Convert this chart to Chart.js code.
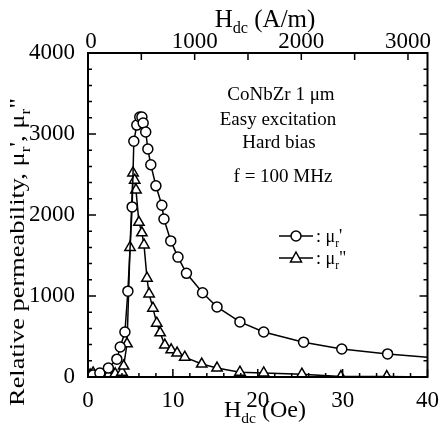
<!DOCTYPE html>
<html>
<head>
<meta charset="utf-8">
<script src="https://cdn.jsdelivr.net/npm/chart.js@4.4.1/dist/chart.umd.min.js"></script>
<style>
  html, body { margin: 0; padding: 0; background: #fff; }
  #wrap { width: 441px; height: 428px; }
</style>
</head>
<body>
<div id="wrap"><canvas id="permChart" width="441" height="428"></canvas></div>
<script>
// mu_r' (circles)
const hReal = [0, 0.6, 1.4, 2.4, 3.4, 3.8, 4.35, 4.7, 5.2, 5.4, 5.75, 6.1, 6.35, 6.5, 6.8, 7.05, 7.4, 8.0, 8.7, 8.95, 9.75, 10.6, 11.6, 13.5, 15.2, 17.9, 20.7, 25.4, 29.9, 35.3, 40];
const muReal = [10, 25, 50, 110, 220, 370, 555, 1060, 2100, 2910, 3110, 3210, 3210, 3135, 3025, 2815, 2620, 2360, 2120, 1950, 1680, 1480, 1280, 1040, 865, 680, 555, 430, 345, 285, 245];
// mu_r'' (triangles)
const hImag = [0.25, 0.6, 1.5, 2.4, 3.2, 4.0, 4.2, 4.6, 4.95, 5.3, 5.5, 5.65, 6.0, 6.35, 6.6, 6.95, 7.2, 7.65, 8.1, 8.5, 9.05, 9.8, 10.5, 11.4, 13.4, 15.2, 17.9, 20.7, 25.2, 29.8, 35.2, 40];
const muImag = [25, 50, 20, 25, 40, 60, 135, 410, 1600, 2520, 2430, 2310, 1910, 1780, 1630, 1220, 1025, 850, 665, 545, 395, 335, 295, 245, 160, 110, 60, 50, 35, 5, 5, 0];

const yTicks = [0, 1000, 2000, 3000, 4000];
const xTicks = [0, 10, 20, 30, 40];
const topTicks = [0, 1000, 2000, 3000];
const OE_TO_AM = 79.577;

const serif = "'Liberation Serif', 'DejaVu Serif', serif";

// text pieces with subscripts
function richWidth(ctx, parts, size) {
  let w = 0;
  parts.forEach(p => {
    ctx.font = (p.sub ? size * 0.65 : size) + "px " + serif;
    w += ctx.measureText(p.t).width;
  });
  return w;
}
function drawRich(ctx, parts, x, y, size, align) {
  let w = richWidth(ctx, parts, size);
  let cx = align === "center" ? x - w / 2 : x;
  ctx.textAlign = "left";
  ctx.textBaseline = "alphabetic";
  parts.forEach(p => {
    ctx.font = (p.sub ? size * 0.65 : size) + "px " + serif;
    ctx.fillText(p.t, cx, p.sub ? y + size * 0.25 : y);
    cx += ctx.measureText(p.t).width;
  });
}

const decor = {
  id: "decor",
  afterDraw(chart) {
    const ctx = chart.ctx;
    const a = chart.chartArea;
    const xs = chart.scales.x, ys = chart.scales.y, xt = chart.scales.xTop;
    ctx.save();
    ctx.strokeStyle = "#000";
    ctx.fillStyle = "#000";
    ctx.lineWidth = 2;
    ctx.strokeRect(a.left, a.top, a.right - a.left, a.bottom - a.top);

    ctx.lineWidth = 1.5;
    ctx.beginPath();
    // y ticks, both sides
    for (let v = 0; v <= 4000; v += 200) {
      const py = ys.getPixelForValue(v);
      const len = v % 1000 === 0 ? 8 : 4;
      ctx.moveTo(a.left, py); ctx.lineTo(a.left + len, py);
      ctx.moveTo(a.right, py); ctx.lineTo(a.right - len, py);
    }
    // bottom ticks
    for (let h = 0; h <= 40; h += 2) {
      const px = xs.getPixelForValue(h);
      const len = h % 10 === 0 ? 8 : 4;
      ctx.moveTo(px, a.bottom); ctx.lineTo(px, a.bottom - len);
    }
    // top ticks in A/m
    for (let m = 0; m <= 3000; m += 500) {
      const px = xt.getPixelForValue(m);
      ctx.moveTo(px, a.top); ctx.lineTo(px, a.top + 7);
    }
    ctx.stroke();

    // top tick labels
    ctx.font = "23px " + serif;
    ctx.textAlign = "center";
    ctx.textBaseline = "middle";
    topTicks.forEach(m => {
      ctx.fillText(String(m), xt.getPixelForValue(m) + (m === 0 ? 3 : 0), 42);
    });

    // axis titles
    drawRich(ctx, [{t: "H"}, {t: "dc", sub: true}, {t: " (Oe)"}], 265, 417, 24, "center");
    drawRich(ctx, [{t: "H"}, {t: "dc", sub: true}, {t: " (A/m)"}], 265, 27, 25, "center");
    ctx.save();
    ctx.translate(24, 252);
    ctx.rotate(-Math.PI / 2);
    ctx.scale(1.2, 1);
    drawRich(ctx, [{t: "Relative permeability, \u03bc"}, {t: "r", sub: true}, {t: "', \u03bc"}, {t: "r", sub: true}, {t: "\""}], 0, 0, 22, "center");
    ctx.restore();

    // annotation
    ctx.font = "19px " + serif;
    ctx.textAlign = "center";
    ctx.textBaseline = "alphabetic";
    ctx.fillText("CoNbZr 1 \u03bcm", 281, 100);
    ctx.fillText("Easy excitation", 278, 125);
    ctx.fillText("Hard bias", 279, 148);
    ctx.fillText("f = 100 MHz", 283, 182);

    // legend
    const rows = [{y: 236, style: "circle", s: "'"}, {y: 258, style: "triangle", s: "\""}];
    rows.forEach(r => {
      ctx.lineWidth = 1.5;
      ctx.beginPath();
      ctx.moveTo(279, r.y); ctx.lineTo(313, r.y);
      ctx.stroke();
      ctx.fillStyle = "#fff";
      ctx.beginPath();
      if (r.style === "circle") {
        ctx.arc(296, r.y, 5, 0, Math.PI * 2);
      } else {
        ctx.moveTo(296, r.y - 6); ctx.lineTo(301.5, r.y + 4); ctx.lineTo(290.5, r.y + 4); ctx.closePath();
      }
      ctx.fill(); ctx.stroke();
      ctx.fillStyle = "#000";
      drawRich(ctx, [{t: ": \u03bc"}, {t: "r", sub: true}, {t: r.s}], 316, r.y + 6, 18, "left");
    });
    ctx.restore();
  }
};

const realData = hReal.map((h, i) => ({x: h, y: muReal[i]}));
const imagData = hImag.map((h, i) => ({x: h, y: muImag[i]}));

new Chart(document.getElementById("permChart"), {
  type: "line",
  data: {
    datasets: [
      {
        label: "\u03bcr'",
        data: realData,
        borderColor: "#000",
        borderWidth: 1.5,
        pointStyle: "circle",
        pointRadius: hReal.map(h => (h === 0 || h === 40) ? 0 : 5),
        pointBackgroundColor: "#fff",
        pointBorderColor: "#000",
        pointBorderWidth: 1.5,
        tension: 0
      },
      {
        label: "\u03bcr\"",
        data: imagData,
        borderColor: "#000",
        borderWidth: 1.5,
        pointStyle: "triangle",
        pointRadius: hImag.map(h => h === 40 ? 0 : 6),
        pointBackgroundColor: "#fff",
        pointBorderColor: "#000",
        pointBorderWidth: 1.5,
        tension: 0
      }
    ]
  },
  options: {
    responsive: false,
    animation: false,
    layout: { padding: { left: 0, right: 13, top: 0, bottom: 0 } },
    plugins: { legend: { display: false }, tooltip: { enabled: false } },
    scales: {
      x: {
        type: "linear",
        min: 0, max: 40,
        grid: { display: false },
        border: { display: false },
        afterFit(s) { s.height = 51; },
        ticks: {
          stepSize: 10, padding: 2,
          color: "#000",
          font: { family: serif, size: 23 },
          maxRotation: 0,
          autoSkip: false,
          callback: v => xTicks.includes(v) ? String(v) : ""
        }
      },
      xTop: {
        type: "linear",
        position: "top",
        min: 0, max: 40 * OE_TO_AM,
        grid: { display: false },
        border: { display: false },
        afterFit(s) { s.height = 53; },
        ticks: { display: false }
      },
      y: {
        type: "linear",
        min: 0, max: 4000,
        grid: { display: false },
        border: { display: false },
        afterFit(s) { s.width = 88; },
        ticks: {
          stepSize: 1000, padding: 5,
          color: "#000",
          font: { family: serif, size: 23 },
          callback: v => yTicks.includes(v) ? String(v) : ""
        }
      }
    }
  },
  plugins: [decor]
});
</script>
</body>
</html>
